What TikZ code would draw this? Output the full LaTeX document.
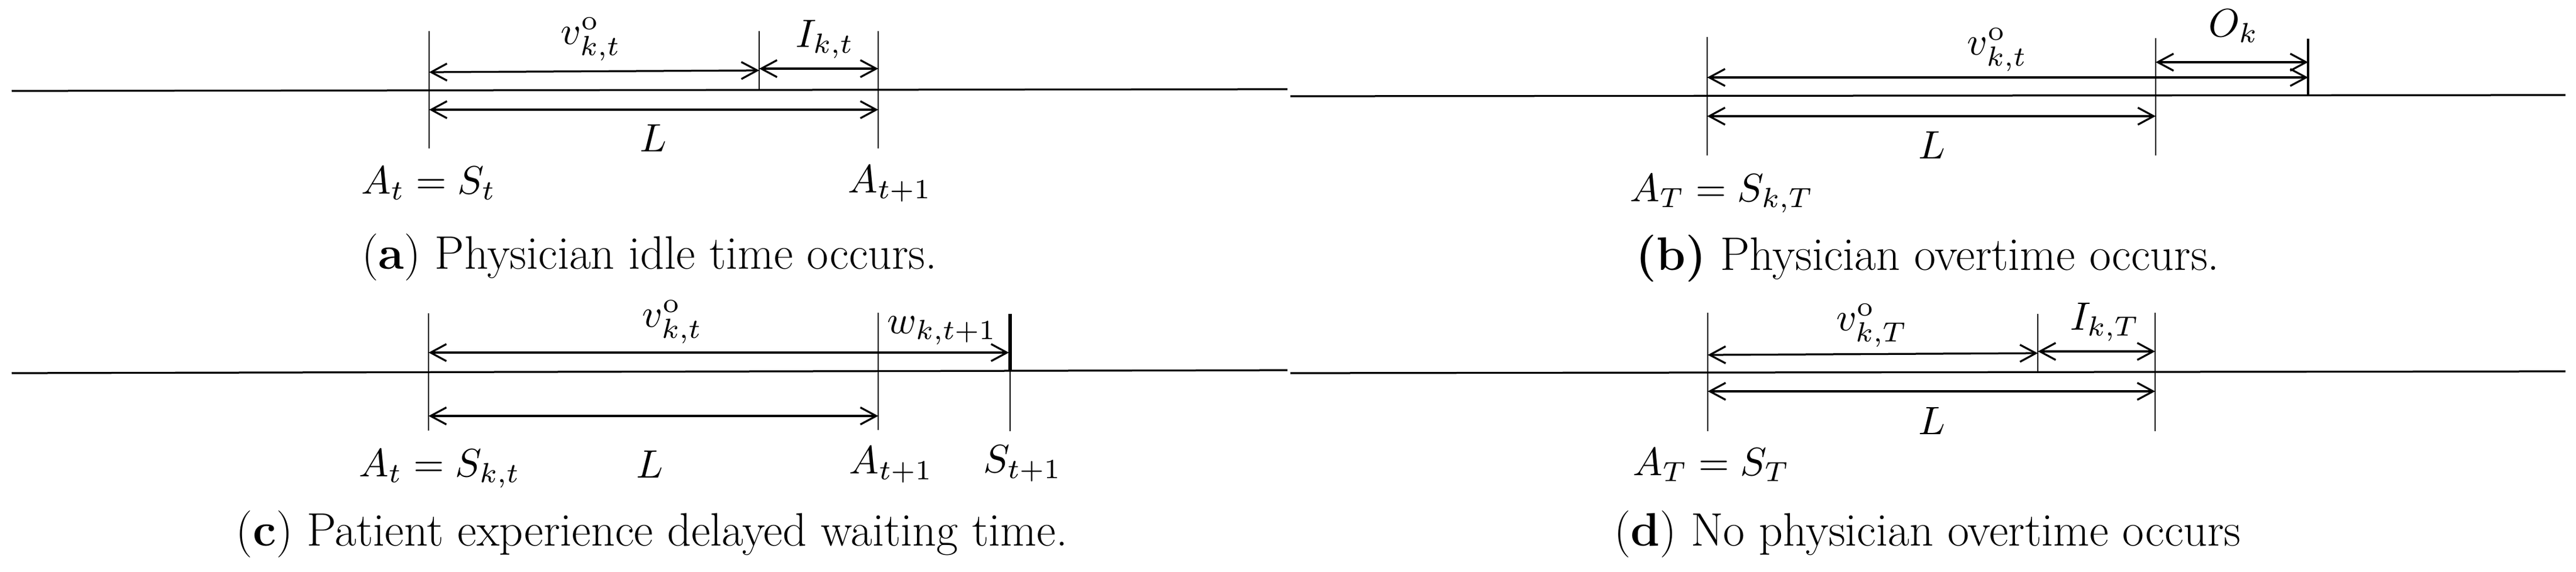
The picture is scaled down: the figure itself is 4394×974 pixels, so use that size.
\documentclass[tikz,border=0pt]{standalone}
\usetikzlibrary{arrows.meta}
\begin{document}
\begin{tikzpicture}[x=0.2pt,y=-0.2pt,
  axisline/.style={line width=0.65pt},
  vtick/.style={line width=0.5pt},
  boldtick/.style={line width=1.2pt},
  dimarrow/.style={line width=0.65pt,
    {Straight Barb[length=5.4pt,width=5.8pt]}-{Straight Barb[length=5.4pt,width=5.8pt]}},
  mlabel/.style={anchor=base, inner sep=0pt, font=\fontsize{10}{12}\selectfont, scale=1.35},
  captext/.style={anchor=base, inner sep=0pt, font=\fontsize{16}{19}\selectfont}]
\useasboundingbox (0,0) rectangle (4394,974);

% ---------------- (a) ----------------
\coordinate (aL) at (20,155);   \coordinate (aR) at (2196,152);
\coordinate (a1t) at (732,53);  \coordinate (a1b) at (732,253);
\coordinate (a2t) at (1295,53); \coordinate (a2b) at (1295,154);
\coordinate (a3t) at (1498,53); \coordinate (a3b) at (1498,253);
\coordinate (av1) at (732,123); \coordinate (av2) at (1295,120);
\coordinate (ai1) at (1295,117);\coordinate (ai2) at (1498,117);
\coordinate (al1) at (732,187); \coordinate (al2) at (1498,187);
\draw[axisline] (aL) -- (aR);
\draw[vtick] (a1t) -- (a1b);
\draw[vtick] (a2t) -- (a2b);
\draw[vtick] (a3t) -- (a3b);
\draw[dimarrow] (av1) -- (av2);
\draw[dimarrow] (ai1) -- (ai2);
\draw[dimarrow] (al1) -- (al2);
\node[mlabel] (avlab) at (1008,75) {$v^{\mathrm{o}}_{k,t}$};
\node[mlabel] (ailab) at (1407,80) {$I_{k,t}$};
\node[mlabel] (allab) at (1114,258) {$L$};
\node[mlabel] (aAS) at (731,330) {$A_t = S_t$};
\node[mlabel] (aA1) at (1518,328) {$A_{t+1}$};
\node[captext] (acap) at (1108,458) {(\textbf{a}) Physician idle time occurs.};

% ---------------- (b) ----------------
\coordinate (bL) at (2201,164);  \coordinate (bR) at (4376,162);
\coordinate (b1t) at (2912,63);  \coordinate (b1b) at (2912,265);
\coordinate (b2t) at (3677,65);  \coordinate (b2b) at (3677,265);
\coordinate (b3t) at (3937,66);  \coordinate (b3b) at (3937,163);
\coordinate (bv1) at (2912,132); \coordinate (bv2) at (3937,132);
\coordinate (bo1) at (3677,106); \coordinate (bo2) at (3937,106);
\coordinate (bl1) at (2912,198); \coordinate (bl2) at (3677,198);
\draw[axisline] (bL) -- (bR);
\draw[vtick] (b1t) -- (b1b);
\draw[vtick] (b2t) -- (b2b);
\draw[axisline] (b3t) -- (b3b);
\draw[dimarrow] (bv1) -- (bv2);
\draw[dimarrow] (bo1) -- (bo2);
\draw[dimarrow] (bl1) -- (bl2);
\node[mlabel] (bvlab) at (3407,93) {$v^{\mathrm{o}}_{k,t}$};
\node[mlabel] (bolab) at (3810,62) {$O_k$};
\node[mlabel] (bllab) at (3295,270) {$L$};
\node[mlabel] (bAS) at (2937,343) {$A_T = S_{k,T}$};
\node[captext] (bcap) at (3288,460) {\textbf{(b)} Physician overtime occurs.};

% ---------------- (c) ----------------
\coordinate (cL) at (20,636);    \coordinate (cR) at (2196,631);
\coordinate (c1t) at (731,534);  \coordinate (c1b) at (731,734);
\coordinate (c2t) at (1498,533); \coordinate (c2b) at (1498,733);
\coordinate (c3t) at (1723,535); \coordinate (c3m) at (1723,633); \coordinate (c3b) at (1723,735);
\coordinate (cv1) at (731,601);  \coordinate (cv2) at (1721,601);
\coordinate (cl1) at (731,709);  \coordinate (cl2) at (1498,709);
\draw[axisline] (cL) -- (cR);
\draw[vtick] (c1t) -- (c1b);
\draw[vtick] (c2t) -- (c2b);
\draw[vtick] (c3t) -- (c3b);
\draw[boldtick] (c3t) -- (c3m);
\draw[dimarrow] (cv1) -- (cv2);
\draw[dimarrow] (cl1) -- (cl2);
\node[mlabel] (cvlab) at (1147,557) {$v^{\mathrm{o}}_{k,t}$};
\node[mlabel] (cwlab) at (1607,568) {$w_{k,t+1}$};
\node[mlabel] (cAS) at (750,812) {$A_t = S_{k,t}$};
\node[mlabel] (cllab) at (1108,814) {$L$};
\node[mlabel] (cA1) at (1520,807) {$A_{t+1}$};
\node[mlabel] (cS1) at (1744,805) {$S_{t+1}$};
\node[captext] (ccap) at (1112,930) {(\textbf{c}) Patient experience delayed waiting time.};

% ---------------- (d) ----------------
\coordinate (dL) at (2201,636);  \coordinate (dR) at (4376,633);
\coordinate (d1t) at (2913,533); \coordinate (d1b) at (2913,735);
\coordinate (d2t) at (3476,535); \coordinate (d2b) at (3476,634);
\coordinate (d3t) at (3676,533); \coordinate (d3b) at (3676,735);
\coordinate (dv1) at (2913,605); \coordinate (dv2) at (3476,602);
\coordinate (di1) at (3476,599); \coordinate (di2) at (3676,599);
\coordinate (dl1) at (2913,667); \coordinate (dl2) at (3676,667);
\draw[axisline] (dL) -- (dR);
\draw[vtick] (d1t) -- (d1b);
\draw[vtick] (d2t) -- (d2b);
\draw[vtick] (d3t) -- (d3b);
\draw[dimarrow] (dv1) -- (dv2);
\draw[dimarrow] (di1) -- (di2);
\draw[dimarrow] (dl1) -- (dl2);
\node[mlabel] (dvlab) at (3193,563) {$v^{\mathrm{o}}_{k,T}$};
\node[mlabel] (dilab) at (3590,562) {$I_{k,T}$};
\node[mlabel] (dllab) at (3295,740) {$L$};
\node[mlabel] (dAS) at (2919,810) {$A_T = S_T$};
\node[captext] (dcap) at (3288,930) {(\textbf{d}) No physician overtime occurs};
\end{tikzpicture}
\end{document}
